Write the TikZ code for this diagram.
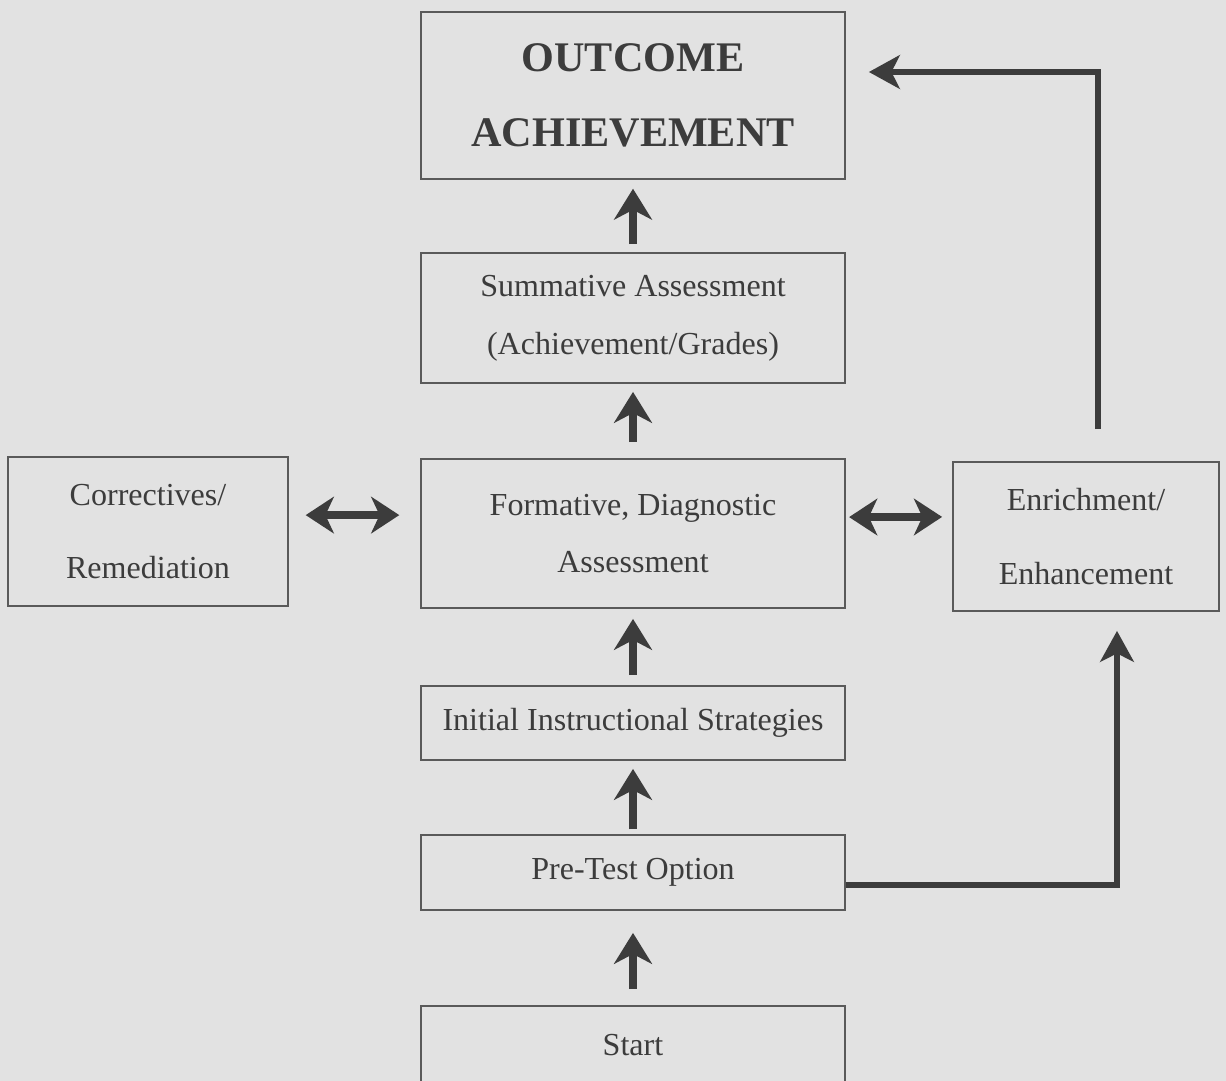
\documentclass[tikz,border=0pt]{standalone}
\usepackage{fontspec}
\setmainfont{Liberation Serif}
\usetikzlibrary{arrows.meta,calc}
\definecolor{paper}{HTML}{E2E2E2}
\definecolor{ink}{HTML}{3C3C3C}
\definecolor{frame}{HTML}{5A5A5A}
\begin{document}
\begin{tikzpicture}[
  box/.style={draw=frame, line width=1.3pt, text=ink, align=center,
    inner sep=0pt, font=\fontsize{22.8}{41}\selectfont},
  mainbox/.style={box, minimum width=10.6cm},
  uparrow/.style={draw=ink, line width=5.5pt,
    -{Stealth[length=22pt, width=27pt, inset=7pt]}},
  twoway/.style={draw=ink, line width=5.5pt,
    {Stealth[length=20pt, width=26pt, inset=6pt]}-{Stealth[length=20pt, width=26pt, inset=6pt]}},
  route/.style={draw=ink, line width=3.6pt,
    -{Stealth[length=22pt, width=24pt, inset=6pt]}}
]
\fill[paper] (0,0) rectangle (30.65,-27.025);
\useasboundingbox (0,0) rectangle (30.65,-27.025);

% central column of stages
\node[mainbox, minimum height=4.175cm, font=\bfseries\fontsize{30}{53}\selectfont]
  (out) at (15.825,-2.3875) {OUTCOME\\ACHIEVEMENT};
\node[mainbox, minimum height=3.25cm] (sum) at (15.825,-7.95)
  {Summative Assessment\\(Achievement/Grades)};
\node[mainbox, minimum height=3.725cm, font=\fontsize{22.8}{40}\selectfont]
  (form) at (15.825,-13.3375) {Formative, Diagnostic\\Assessment};
\node[mainbox, minimum height=1.85cm] (init) at (15.825,-18.075)
  {Initial Instructional Strategies};
\node[mainbox, minimum height=1.875cm] (pre) at (15.825,-21.8125)
  {Pre-Test Option};
\node[mainbox, minimum height=1.95cm] (start) at (15.825,-26.125)
  {Start};

% side stages
\node[box, minimum width=7cm, minimum height=3.725cm,
  font=\fontsize{22.8}{52}\selectfont] (corr) at (3.7,-13.2875)
  {Correctives/\\Remediation};
\node[box, minimum width=6.65cm, minimum height=3.725cm,
  font=\fontsize{22.8}{52}\selectfont] (enr) at (27.15,-13.4125)
  {Enrichment/\\Enhancement};

% upward flow
\draw[uparrow, shorten <=0.2cm, shorten >=0.22cm] (sum) -- (out);
\draw[uparrow, shorten <=0.4cm, shorten >=0.2cm] (form) -- (sum);
\draw[uparrow, shorten <=0.25cm, shorten >=0.25cm] (init) -- (form);
\draw[uparrow, shorten <=0.12cm, shorten >=0.2cm] (pre) -- (init);
\draw[uparrow, shorten <=0.4cm, shorten >=0.55cm] (start) -- (pre);

% two-way exchanges with the side stages
\draw[twoway, shorten <=0.42cm, shorten >=0.52cm]
  ([yshift=0.41cm]corr.east) -- ([yshift=0.46cm]form.west);
\draw[twoway, shorten <=0.08cm, shorten >=0.25cm]
  ([yshift=0.41cm]form.east) -- ([yshift=0.49cm]enr.west);

% bypass routes on the right
\draw[route, line join=miter]
  ([xshift=0.3cm, yshift=0.8cm]enr.north) |- ([xshift=0.575cm, yshift=0.5875cm]out.east);
\draw[route, line join=miter]
  ([yshift=-0.3125cm]pre.east) -| ([xshift=0.775cm, yshift=-0.475cm]enr.south);
\end{tikzpicture}
\end{document}
